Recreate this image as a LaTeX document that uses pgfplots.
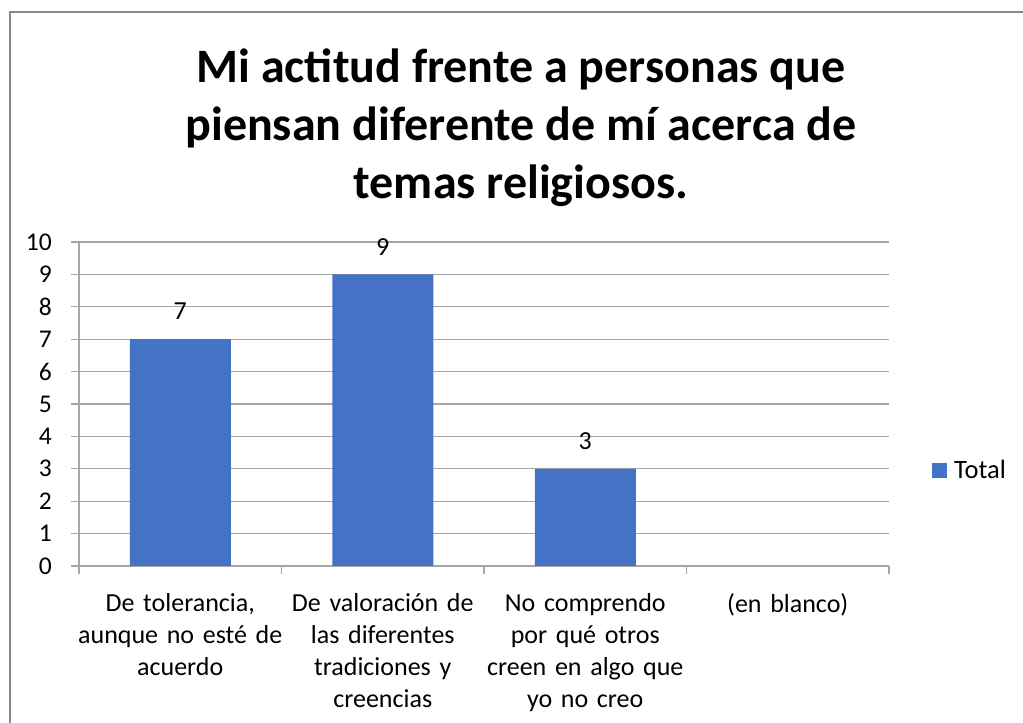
\documentclass[border=0pt]{standalone}
\usepackage{pgfplots}
\pgfplotsset{compat=1.18}
\usepackage{fontspec}
\setmainfont{Carlito}
\definecolor{barblue}{HTML}{4472C4}
\definecolor{gridgray}{HTML}{A6A6A6}
\definecolor{framegray}{HTML}{898989}
\begin{document}
\begin{tikzpicture}[x=1pt,y=1pt]
\useasboundingbox (0,0) rectangle (1023,723);
\draw[framegray, line width=1.5pt] (10,0) -- (10,711) -- (1023,711);
\node[font=\fontsize{48}{58}\selectfont\bfseries, anchor=base, inner sep=0] at (521,640) {Mi actitud frente a personas que};
\node[font=\fontsize{48}{58}\selectfont\bfseries, anchor=base, inner sep=0] at (521,582) {piensan diferente de mí acerca de};
\node[font=\fontsize{48}{58}\selectfont\bfseries, anchor=base, inner sep=0] at (521,524) {temas religiosos.};
\begin{axis}[
  at={(79pt,157pt)}, anchor=south west,
  scale only axis, width=810pt, height=324pt,
  xmin=-0.5, xmax=3.5, ymin=0, ymax=10,
  ytick={0,1,...,10},
  xtick={0,1,2,3},
  xticklabels={{De tolerancia,\\aunque no esté de\\acuerdo},{De valoración de\\las diferentes\\tradiciones y\\creencias},{No comprendo\\por qué otros\\creen en algo que\\yo no creo},{(en blanco)}},
  minor xtick={-0.5,0.5,1.5,2.5,3.5},
  major x tick style={draw=none},
  minor tick length=8pt,
  major tick length=8pt,
  tick align=outside,
  tick style={gridgray, line width=1.3pt},
  axis lines*=left,
  axis line style={gridgray, line width=1.3pt},
  ymajorgrids,
  grid style={gridgray, line width=1.3pt},
  x tick label style={font=\fontsize{26}{32}\selectfont, align=center, text width=205pt, anchor=north, inner sep=0pt, yshift=-19pt},
  y tick label style={font=\fontsize{25.5}{30}\selectfont, anchor=east, inner sep=0pt, xshift=-19pt},
  /pgf/number format/assume math mode=true,
  ybar, bar width=101pt,
  nodes near coords,
  nodes near coords style={font=\fontsize{26}{32}\selectfont, inner sep=0pt, anchor=south, yshift=19pt},
  legend entries={Total},
  legend style={draw=none, fill=none, at={(1.053,0.296)}, anchor=west, font=\fontsize{26.5}{32}\selectfont, inner sep=0pt},
  legend image code/.code={\fill[barblue] (0pt,-7.5pt) rectangle (15pt,7.5pt); \path (0pt,0pt) -- (20pt,0pt);},
  clip=false,
]
\addplot[fill=barblue, draw=none] coordinates {(0,7) (1,9) (2,3)};
\end{axis}
\end{tikzpicture}
\end{document}
